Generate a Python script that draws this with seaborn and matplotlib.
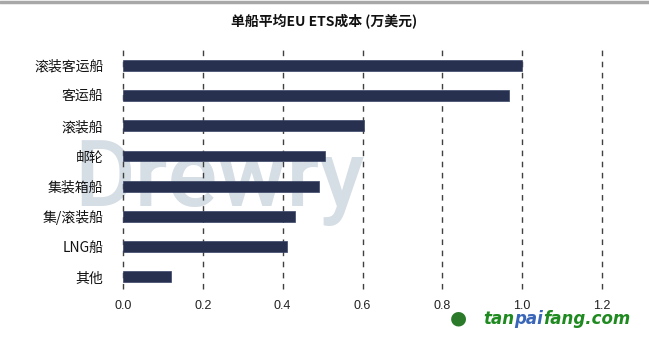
import matplotlib
matplotlib.use("Agg")
import matplotlib.pyplot as plt
import seaborn as sns
import pandas as pd
from matplotlib.lines import Line2D

categories = ["滚装客运船", "客运船", "滚装船", "邮轮", "集装箱船", "集/滚装船", "LNG船", "其他"]
values = [1.00, 0.966, 0.603, 0.506, 0.49, 0.43, 0.412, 0.121]
xticks = [0.0, 0.2, 0.4, 0.6, 0.8, 1.0, 1.2]
title = "单船平均EU ETS成本 (万美元)"

sns.set_theme(style="white")
plt.rcParams['font.family'] = ['Noto Sans CJK SC', 'DejaVu Sans']

df = pd.DataFrame({"cat": categories, "val": values})

fig = plt.figure(figsize=(6.49, 3.38), dpi=100)
ax = fig.add_axes([123/649, 1-289/338, (602-123)/649, (289-50)/338])

# watermark (behind everything in axes)
ax.text(74/649, 1-206/338, "Drewry", fontsize=67, color="#d5dde5",
        family="Roboto", fontweight="medium", ha="left", va="baseline",
        transform=fig.transFigure, zorder=0, clip_on=False)

sns.barplot(data=df, x="val", y="cat", color="#27304f", width=0.36,
            saturation=1, ax=ax, zorder=3, edgecolor="#3a4566", linewidth=0.5)
ax.patch.set_alpha(0)

ax.set_xlim(0, 1.2)
ax.set_ylim(7.4, -0.51)
ax.set_xticks(xticks)
ax.set_xticklabels([f"{t:.1f}" for t in xticks], family="Liberation Sans")
for lbl in ax.get_yticklabels():
    lbl.set_fontweight("medium")
for t in xticks:
    ax.axvline(t, color="#404040", linestyle=(0, (4, 4)), linewidth=1.0, zorder=2, clip_on=False)
for s in ax.spines.values():
    s.set_visible(False)
ax.set_xlabel("")
ax.set_ylabel("")
ax.tick_params(axis="x", length=0, pad=8, labelsize=9, labelcolor="#222222")
ax.tick_params(axis="y", length=0, pad=14, labelsize=10, labelcolor="#111111")
ax.grid(False)

fig.text(0.5, 1-22/338, title, ha="center", va="center", fontsize=10,
         fontweight="bold", color="#111111")

# top border
fig.add_artist(Line2D([0, 1], [1-1.5/338, 1-1.5/338], color="#a8a8a8", linewidth=2.5))

# site logo text
fig.text(458/649, 1-318/338, "●", fontsize=14, color="#2a7a2a", ha="center", va="center",
         family="DejaVu Sans")
t1 = fig.text(483/649, 1-324/338, "tan", fontsize=12, color="#1f8a1f",
              fontweight="bold", fontstyle="italic", family="DejaVu Sans", ha="left", va="baseline")
t2 = fig.text(0, 0, "pai", fontsize=12, color="#3a66b8", fontweight="bold", fontstyle="italic",
              family="DejaVu Sans")
t3 = fig.text(0, 0, "fang.com", fontsize=12, color="#1f8a1f", fontweight="bold", fontstyle="italic",
              family="DejaVu Sans")
fig.canvas.draw()
r = fig.canvas.get_renderer()
bb1 = t1.get_window_extent(r)
t2.set_position((bb1.x1 / fig.bbox.width, 1-324/338))
t2.set_va("baseline")
fig.canvas.draw()
bb2 = t2.get_window_extent(r)
t3.set_position((bb2.x1 / fig.bbox.width, 1-324/338))
t3.set_va("baseline")

fig.savefig("out.png", dpi=100)
